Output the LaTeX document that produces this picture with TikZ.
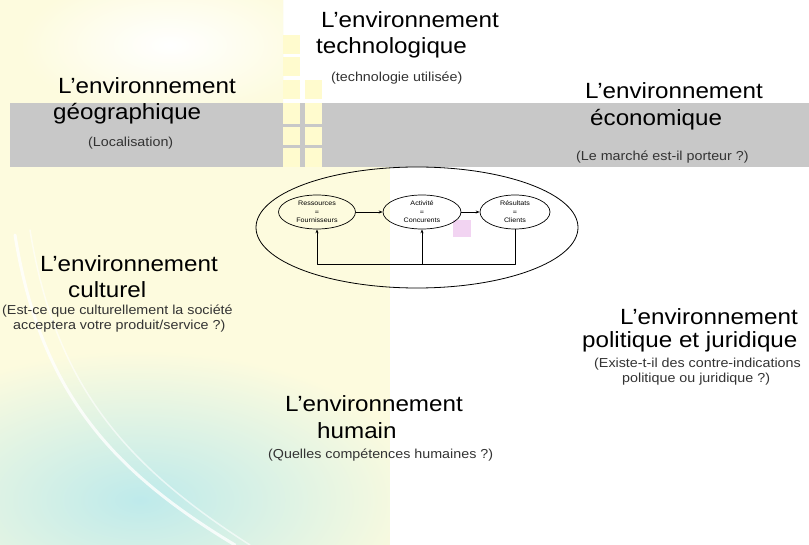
\documentclass[tikz,border=0pt]{standalone}
\usepackage{fontspec}
\setmainfont[FakeStretch=1.1]{Liberation Sans}
\usetikzlibrary{arrows.meta,shapes.geometric}
\definecolor{bandgray}{RGB}{200,200,200}
\definecolor{tintyellow}{RGB}{253,251,222}
\definecolor{tintcyan}{RGB}{190,234,235}
\definecolor{squareyellow}{RGB}{255,251,206}
\definecolor{pinkbox}{RGB}{242,212,242}

\begin{document}
\begin{tikzpicture}[x=1pt, y=-1pt, line cap=round, line join=round,
  titre/.style={font=\fontsize{22}{26}\selectfont, inner sep=0pt, anchor=base west},
  note/.style={font=\fontsize{13}{15}\selectfont, text=black!80, inner sep=0pt, anchor=base west},
  bulle/.style={draw, ellipse, line width=.7pt, inner sep=0pt, minimum height=34,
    font=\fontsize{6.5}{8.5}\selectfont, align=center},
  fleche/.style={line width=.7pt, -{Stealth[length=4pt,width=3pt]}}]
  \useasboundingbox (0,0) rectangle (809,545);
  \fill[white] (0,0) rectangle (809,545);

  % background wash on the left
  \begin{scope}
    \clip (0,0) -- (283,0) -- (283,167) -- (390,167) -- (390,545) -- (0,545) -- cycle;
    \fill[tintyellow] (0,0) rectangle (390,545);
    \shade[inner color=white, outer color=tintyellow] (170,45) ellipse [x radius=150, y radius=70];
    \shade[inner color=tintcyan, outer color=tintyellow] (140,500) ellipse [x radius=290, y radius=150];
    \draw[white, line width=3pt, opacity=.8] (15,235) .. controls (40,390) and (110,470) .. (235,545);
    \draw[white, line width=1.5pt, opacity=.6] (30,230) .. controls (55,385) and (125,465) .. (250,545);
  \end{scope}

  % grey band and square pattern
  \fill[bandgray] (10,103) rectangle (283,167);
  \fill[bandgray] (322,103) rectangle (809,167);
  \fill[squareyellow] (283,103) rectangle (322,167);
  \fill[bandgray] (300,103) rectangle (305,167);
  \fill[bandgray] (283,124) rectangle (322,127);
  \fill[bandgray] (283,145) rectangle (322,148);
  \foreach \y in {35,57,80} {
    \fill[squareyellow] (283,\y) rectangle +(17,19);
  }
  \fill[squareyellow] (305,80) rectangle +(17,19);

  % the six environments
  \node[titre] (tech1) at (321,28) {L’environnement};
  \node[titre] (tech2) at (316,54) {technologique};
  \node[note] (tech3) at (331,82) {(technologie utilisée)};
  \node[titre] (geo1) at (58,94) {L’environnement};
  \node[titre] (geo2) at (53,120) {géographique};
  \node[note] (geo3) at (88,147) {(Localisation)};
  \node[titre] (eco1) at (585,99) {L’environnement};
  \node[titre] (eco2) at (590,126) {économique};
  \node[note] (eco3) at (576,161) {(Le marché est-il porteur ?)};
  \node[titre] (cult1) at (40,272) {L’environnement};
  \node[titre] (cult2) at (68,298) {culturel};
  \node[note] (cult3) at (2,315) {(Est-ce que culturellement la société};
  \node[note] (cult4) at (13,330) {acceptera votre produit/service ?)};
  \node[titre] (pol1) at (620,325) {L’environnement};
  \node[titre] (pol2) at (582,348) {politique et juridique};
  \node[note] (pol3) at (594,368) {(Existe-t-il des contre-indications};
  \node[note] (pol4) at (622,383) {politique ou juridique ?)};
  \node[titre] (hum1) at (285,412) {L’environnement};
  \node[titre] (hum2) at (317,438) {humain};
  \node[note] (hum3) at (268,458) {(Quelles compétences humaines ?)};

  % the firm in the middle
  \fill[pinkbox] (453,220) rectangle (471,237);
  \node[draw, ellipse, line width=.8pt, inner sep=0pt, minimum width=322, minimum height=121] (cadre) at (417,227.5) {};
  \node[bulle, minimum width=77] (res) at (317,212) {Ressources\\=\\Fournisseurs};
  \node[bulle, minimum width=78] (act) at (422,212) {Activité\\=\\Concurents};
  \node[bulle, minimum width=70] (resul) at (515,212) {Résultats\\=\\Clients};
  \coordinate (retour) at (417,264);
  \draw[fleche] (res) -- (act);
  \draw[fleche] (act) -- (resul);
  \draw[fleche] (resul.south) |- (res.south |- retour) -- (res.south);
  \draw[fleche] (act.south |- retour) -- (act.south);
\end{tikzpicture}
\end{document}
